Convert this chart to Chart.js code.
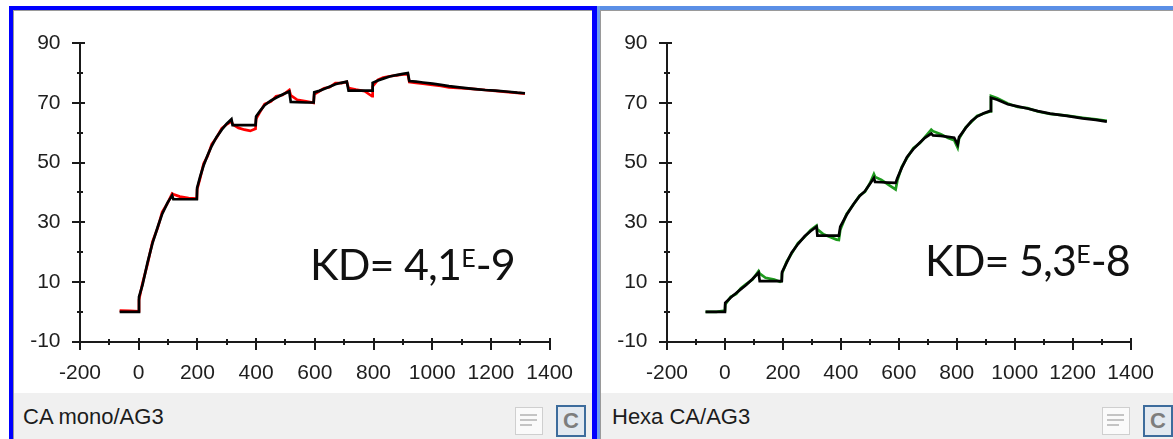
<!DOCTYPE html>
<html><head><meta charset="utf-8">
<script src="https://cdn.jsdelivr.net/npm/chart.js@4.4.1/dist/chart.umd.min.js"></script>
<style>
html,body{margin:0;padding:0;background:#fff;width:1173px;height:439px;overflow:hidden;position:relative;font-family:"Liberation Sans",Arial,sans-serif;}
.a{position:absolute;}
.status{position:absolute;top:393px;height:46px;background:#f0f0f0;}
.stext{position:absolute;top:404px;font-size:22px;line-height:26px;color:#1c1c1c;white-space:nowrap;}
.kd{position:absolute;font-family:Lato,"Open Sans",sans-serif;font-size:43px;line-height:43px;color:#111;white-space:nowrap;letter-spacing:-0.8px;}
.kd sup{font-size:25px;position:relative;top:-13px;vertical-align:baseline;letter-spacing:0;}
.note{position:absolute;width:26px;height:26px;border:1px solid #cfcfcf;background:#fafafa;}
.note i{position:absolute;left:4px;height:2px;background:#c4c4c4;}
.cbtn{position:absolute;width:26px;height:28px;border:2px solid #3d6c9c;background:#e3e9f0;color:#7d7d7d;font:bold 22px/28px "Liberation Sans",Arial,sans-serif;text-align:center;}
</style></head><body>
<!-- left panel frame -->
<div class="a" style="left:9px;top:6px;width:588px;height:4px;background:#0000ff"></div>
<div class="a" style="left:9px;top:6px;width:4px;height:433px;background:#0000ff"></div>
<div class="a" style="left:592px;top:6px;width:5px;height:433px;background:#0000ff"></div>
<div class="a" style="left:13px;top:10px;width:579px;height:1px;background:#9a9a9a"></div>
<div class="a" style="left:13px;top:10px;width:1px;height:429px;background:#9a9a9a"></div>
<!-- right panel frame -->
<div class="a" style="left:597px;top:6px;width:576px;height:4px;background:#5b8fe6"></div>
<div class="a" style="left:597px;top:6px;width:3px;height:433px;background:#6f9cec"></div>
<div class="a" style="left:600px;top:10px;width:573px;height:1px;background:#9a9a9a"></div>
<div class="a" style="left:600px;top:10px;width:1px;height:429px;background:#9a9a9a"></div>

<canvas id="c1" class="a" style="left:14px;top:11px" width="578" height="382"></canvas>
<canvas id="c2" class="a" style="left:601px;top:11px" width="572" height="382"></canvas>

<div class="status" style="left:14px;width:578px"></div>
<div class="status" style="left:601px;width:572px"></div>
<div class="stext" style="left:23px">CA mono/AG3</div>
<div class="stext" style="left:612px">Hexa CA/AG3</div>

<div class="note" style="left:515px;top:407px"><i style="top:6px;width:17px"></i><i style="top:11px;width:17px"></i><i style="top:16px;width:12px"></i></div>
<div class="cbtn" style="left:556px;top:405px">C</div>
<div class="note" style="left:1102px;top:407px"><i style="top:6px;width:17px"></i><i style="top:11px;width:17px"></i><i style="top:16px;width:12px"></i></div>
<div class="cbtn" style="left:1143px;top:405px">C</div>

<div class="kd" style="left:310px;top:242px">KD= 4,1<sup>E</sup>-9</div>
<div class="kd" style="left:925px;top:238px">KD= 5,3<sup>E</sup>-8</div>

<script>
// ---- axis ticks ----
const xTickLabels = [-200, 0, 200, 400, 600, 800, 1000, 1200, 1400];
const yTickLabels = [-10, 10, 30, 50, 70, 90];
const xMinorTicks = [-100, 100, 300, 500, 700, 900, 1100, 1300];
const yMinorTicks = [0, 20, 40, 60, 80];

// ---- CA mono / AG3 ----
const monoTime = [-65,-30,0,1,13,30,47,65,80,98,114,118,140,170,198,199,210,221,235,249,265,283,300,316,320,340,360,380,398,400,415,429,450,468,490,513,518,540,570,596,598,615,631,650,670,690,709,715,740,770,795,797,815,833,855,878,900,917,922,945,968,1001,1030,1057,1100,1147,1180,1215,1260,1290,1316];
const monoFit  = [0,0,0,5,9,16.5,23,28.5,32.8,36.5,39,37.7,37.7,37.7,37.7,41.5,45.5,49,52.5,55.6,58.5,61,63,64.5,62.5,62.5,62.5,62.5,62.5,65.4,67.5,69.2,70.7,71.7,72.8,73.8,70.3,70.2,70.1,70.1,73.5,74,74.6,75.4,76.2,76.7,77.1,74.1,74.1,74.1,74.1,76.7,77.5,78.1,78.8,79.3,79.7,80,77.3,77.1,76.8,76.4,76.0,75.6,75.1,74.6,74.3,74.1,73.7,73.4,73.2];
const monoRaw  = [0.4,0.3,0.2,4,9.6,16,23.5,28.2,33.4,36.3,39.6,39.4,38.6,38.1,37.9,41,45,49.6,52.2,56.2,58.3,61.4,62.8,63.8,62.8,61.6,61,60.6,61.3,64.6,67.2,69.6,70.4,72.2,72.6,74.3,72.5,71,70.5,70.0,72.8,73.8,74.9,75.2,76.6,76.6,77.0,74.9,74.4,73.9,72.2,75.5,77.7,78.5,78.9,79.2,79.5,79.6,77.0,76.7,76.4,76.0,75.7,75.2,74.9,74.6,74.3,74.0,73.6,73.3,73.1];

// ---- Hexa CA / AG3 ----
const hexaTime = [-67,-30,0,1,20,39,55,73,95,116,120,140,170,190,196,197,213,230,252,275,295,316,319,340,365,385,393,398,420,444,465,483,500,514,518,540,565,589,595,610,628,650,673,690,712,718,745,770,791,803,808,831,850,870,893,915,918,940,976,1010,1044,1080,1122,1180,1234,1280,1318];
const hexaFit  = [0,0,0,3,4.8,6.3,7.6,9,11,13.1,10.3,10.3,10.3,10.3,10.3,13.3,16.5,19.8,22.7,25.3,27,28.5,25.5,25.5,25.5,25.5,25.5,28.5,32.5,36.1,38.8,40.4,42.8,44.8,43.5,43.4,43.3,43.2,44.8,48.2,51.8,54.5,56.7,58.3,59.7,59.1,58.9,58.6,58.3,56,58.5,61.6,63.8,65.4,66.5,67.3,71.7,71,69.5,68.8,68.1,67.2,66.4,65.6,64.8,64.3,63.7];
const hexaRaw  = [0,0,0.4,2.5,5,6,7.9,9.3,10.8,13.6,12.8,11.4,10.8,10.1,10.4,12.8,16.8,19.5,23,25.1,27.3,28.9,27.6,26,25,24.2,24.1,27.5,32.8,36,39,40.2,43,46.1,45.2,44.2,42.5,41,44,48.5,51.5,54.8,56.5,58.5,61,60.5,59.5,58.2,57.5,55,58,61.8,63.6,65.6,66.4,67.1,72.3,71.5,69.8,68.6,68.2,67.1,66.3,65.7,65,64.5,64];

const axisPlugin = {
  id: 'axisMarks',
  beforeDatasetsDraw(chart) {
    const ctx = chart.ctx, xs = chart.scales.x, ys = chart.scales.y;
    const ax = Math.round(xs.getPixelForValue(xTickLabels[0]));
    const ay = Math.round(ys.getPixelForValue(yTickLabels[0]));
    const xEnd = Math.round(xs.getPixelForValue(xTickLabels[xTickLabels.length - 1]));
    const yTop = Math.round(ys.getPixelForValue(yTickLabels[yTickLabels.length - 1]));
    ctx.save();
    ctx.strokeStyle = '#1a1a1a';
    ctx.lineWidth = 2;
    ctx.beginPath();
    ctx.moveTo(ax, yTop); ctx.lineTo(ax, ay);
    ctx.moveTo(ax, ay); ctx.lineTo(xEnd, ay);
    yTickLabels.forEach(v => { const p = Math.round(ys.getPixelForValue(v)); ctx.moveTo(ax - 8, p); ctx.lineTo(ax + 5, p); });
    xTickLabels.forEach(v => { const p = Math.round(xs.getPixelForValue(v)); ctx.moveTo(p, ay - 4); ctx.lineTo(p, ay + 8); });
    yMinorTicks.forEach(v => { const p = Math.round(ys.getPixelForValue(v)); ctx.moveTo(ax - 3, p); ctx.lineTo(ax + 3, p); });
    xMinorTicks.forEach(v => { const p = Math.round(xs.getPixelForValue(v)); ctx.moveTo(p, ay - 3); ctx.lineTo(p, ay + 3); });
    ctx.stroke();
    ctx.restore();
  }
};

function makeChart(id, time, fit, raw, rawColor, padRight) {
  const tickFont = {family: '"Liberation Sans", Arial, sans-serif', size: 21};
  return new Chart(document.getElementById(id), {
    type: 'line',
    data: { datasets: [
      {data: time.map((t, i) => ({x: t, y: fit[i]})), borderColor: '#000', borderWidth: 2.7, pointRadius: 0, tension: 0, fill: false},
      {data: time.map((t, i) => ({x: t, y: raw[i]})), borderColor: rawColor, borderWidth: 2.7, pointRadius: 0, tension: 0, fill: false}
    ]},
    options: {
      responsive: false, animation: false, devicePixelRatio: 1,
      layout: {padding: {left: 0, right: padRight, top: 23.3, bottom: 0}},
      plugins: {legend: {display: false}, tooltip: {enabled: false}},
      scales: {
        x: {type: 'linear', min: xTickLabels[0], max: xTickLabels[xTickLabels.length - 1],
            grid: {display: false, drawTicks: false}, border: {display: false},
            afterBuildTicks: s => { s.ticks = xTickLabels.map(v => ({value: v})); },
            afterFit: s => { s.height = 51.3; },
            ticks: {padding: 19, color: '#1e1e1e', font: tickFont, maxRotation: 0, autoSkip: false, callback: v => String(v)}},
        y: {type: 'linear', min: yTickLabels[0], max: yTickLabels[yTickLabels.length - 1],
            grid: {display: false, drawTicks: false}, border: {display: false},
            afterBuildTicks: s => { s.ticks = yTickLabels.map(v => ({value: v})); },
            afterFit: s => { s.width = 66; },
            ticks: {padding: 19.5, color: '#1e1e1e', font: tickFont, autoSkip: false, callback: v => String(v)}}
      }
    },
    plugins: [axisPlugin]
  });
}

makeChart('c1', monoTime, monoFit, monoRaw, '#ff0000', 37);
makeChart('c2', hexaTime, hexaFit, hexaRaw, '#1e9a1e', 31.3);
</script>
</body></html>
